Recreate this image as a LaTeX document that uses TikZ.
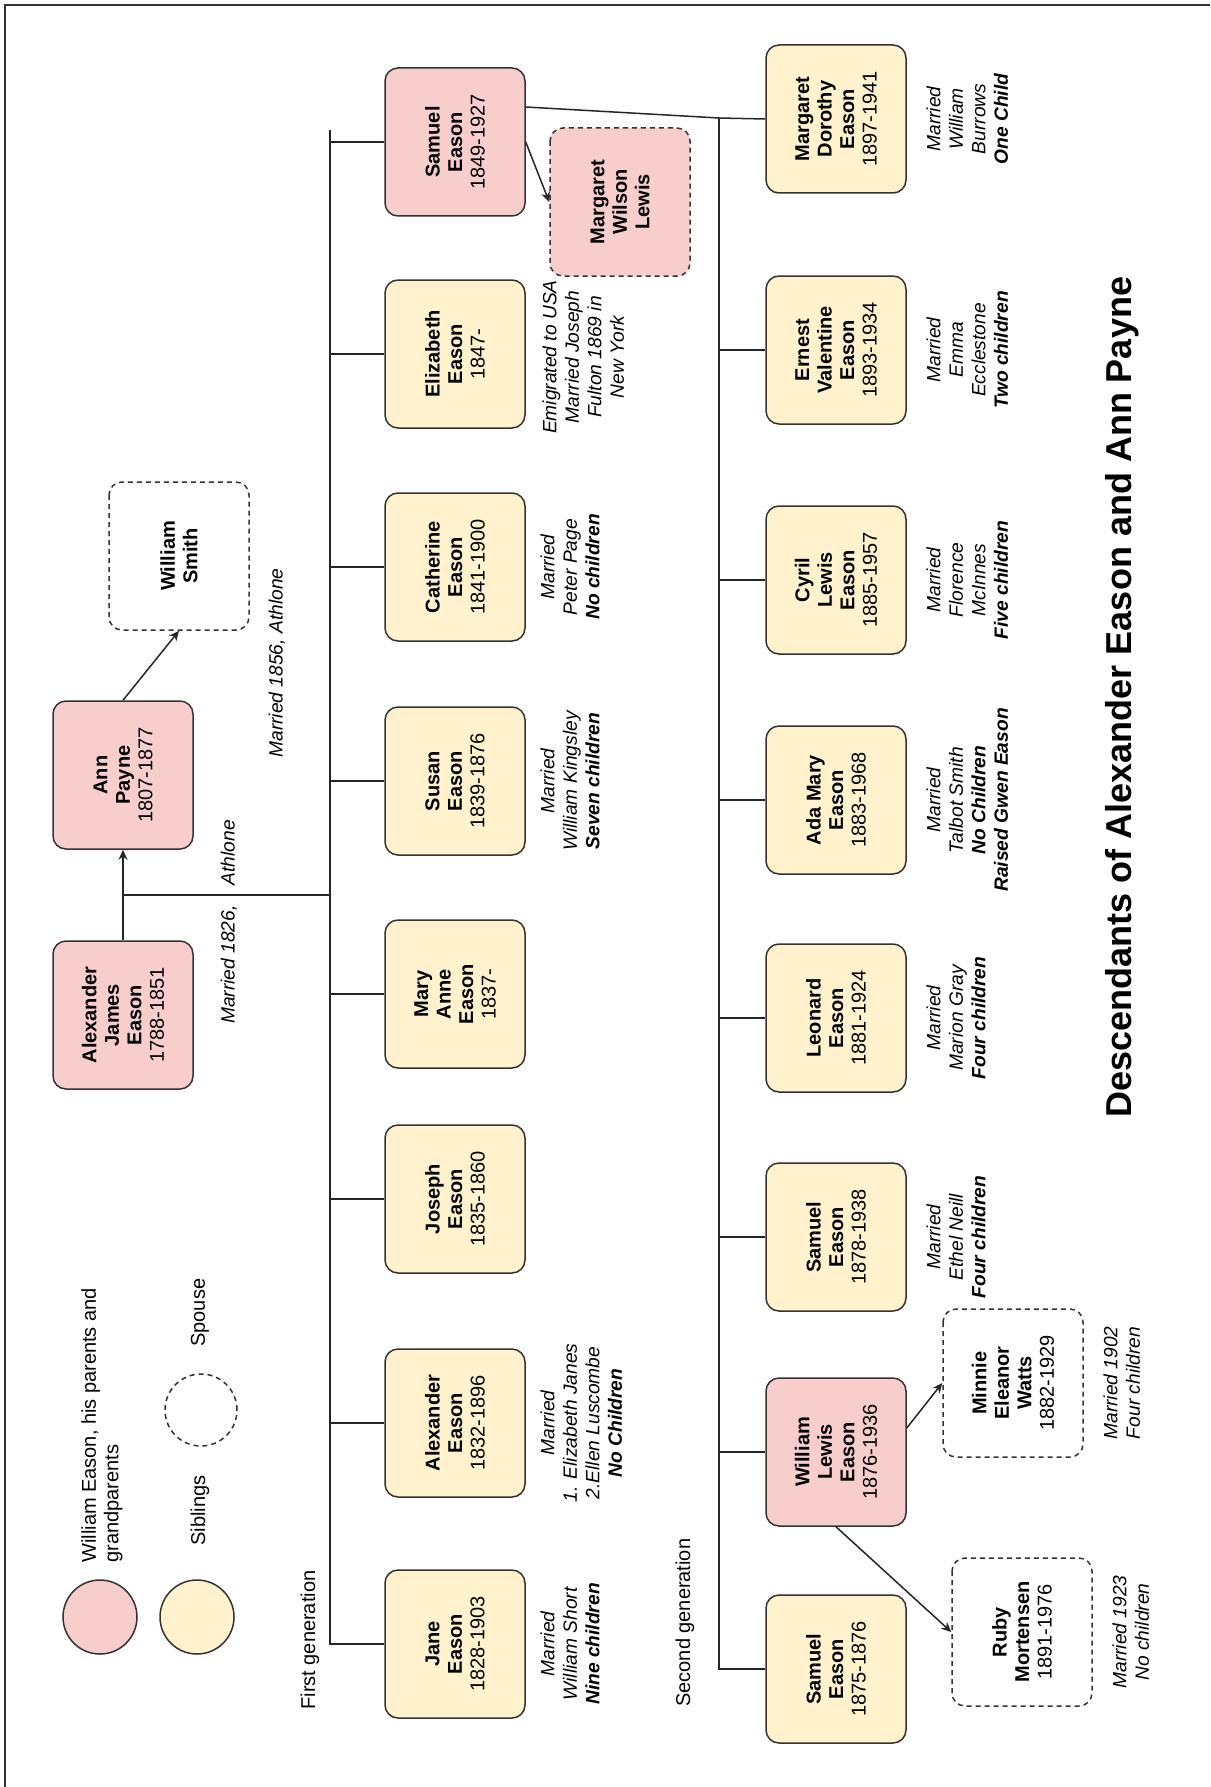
\documentclass[tikz,border=0pt]{standalone}
\usepackage{fontspec}
\setmainfont{Liberation Sans}
\usetikzlibrary{arrows.meta,calc}
\definecolor{kinfill}{HTML}{F8CECC}
\definecolor{sibfill}{HTML}{FFF2CC}
\begin{document}
\begin{tikzpicture}[x=0.5pt,y=-0.5pt,
  person/.style={rotate=90,draw=black!80,line width=0.75pt,rounded corners=6.5pt,
    minimum width=74pt,minimum height=70pt,align=center,inner sep=2pt,
    font=\fontsize{10}{11.25}\selectfont},
  kin/.style={person,fill=kinfill},
  sib/.style={person,fill=sibfill},
  spouse/.style={person,fill=white,dash pattern=on 2.5pt off 2pt},
  note/.style={rotate=90,anchor=north,align=center,inner sep=0pt,
    font=\fontsize{9.6}{11.25}\selectfont\itshape},
  tag/.style={rotate=90,anchor=west,align=left,inner sep=0pt,
    font=\fontsize{10}{11.25}\selectfont},
  link/.style={draw=black!85,line width=0.75pt},
  wed/.style={link,-{Stealth[length=5pt,width=4.5pt]}},
  key/.style={circle,draw=black!80,line width=0.75pt,minimum size=37pt,inner sep=0pt}]
\useasboundingbox[fill=white] (0,0) rectangle (1210,1787);
\draw[black!80,line width=1pt] (5,1787) -- (5,5) -- (1210,5);
\node[key,fill=kinfill] (keykin) at (100,1617) {};
\node[key,fill=sibfill] (keysib) at (197,1617) {};
\node[key,minimum size=36pt,dash pattern=on 2.5pt off 2pt] (keyspouse) at (201,1410) {};
\node[tag] (tkin) at (102,1563) {William Eason, his parents and\\grandparents};
\node[tag] (tsib) at (200,1546) {Siblings};
\node[tag] (tspouse) at (200,1347) {Spouse};
\node[tag] (gen1) at (310,1710) {First generation};
\node[tag] (gen2) at (685,1707) {Second generation};
\node[kin] (alexj) at (123,1015) {\textbf{Alexander}\\\textbf{James}\\\textbf{Eason}\\1788-1851};
\node[kin] (ann) at (123,775) {\textbf{Ann}\\\textbf{Payne}\\1807-1877};
\node[spouse] (wsmith) at (179,556) {\textbf{William}\\\textbf{Smith}};
\node[note,anchor=center] (wed1826) at (229,922) {Married 1826,\hspace{10pt}Athlone};
\node[note,anchor=center] (wed1856) at (277,663) {Married 1856, Athlone};
\node[kin] (sam1) at (455,142) {\textbf{Samuel}\\\textbf{Eason}\\1849-1927};
\node[sib] (eliz) at (455,354) {\textbf{Elizabeth}\\\textbf{Eason}\\1847-};
\node[sib] (cath) at (455,567) {\textbf{Catherine}\\\textbf{Eason}\\1841-1900};
\node[sib] (susan) at (455,781) {\textbf{Susan}\\\textbf{Eason}\\1839-1876};
\node[sib] (marya) at (455,994) {\textbf{Mary}\\\textbf{Anne}\\\textbf{Eason}\\1837-};
\node[sib] (joseph) at (455,1199) {\textbf{Joseph}\\\textbf{Eason}\\1835-1860};
\node[sib] (alexe) at (455,1423) {\textbf{Alexander}\\\textbf{Eason}\\1832-1896};
\node[sib] (jane) at (455,1644) {\textbf{Jane}\\\textbf{Eason}\\1828-1903};
\node[kin,dash pattern=on 2.5pt off 2pt] (mwilson) at (620,202) {\textbf{Margaret}\\\textbf{Wilson}\\\textbf{Lewis}};
\node[note] (neliz) at (542,357) {Emigrated to USA\\Married Joseph\\Fulton 1869 in\\New York};
\node[note] (ncath) at (540,567) {Married\\Peter Page\\\textbf{No children}};
\node[note] (nsusan) at (540,781) {Married\\William Kingsley\\\textbf{Seven children}};
\node[note] (nalexe) at (540,1423) {Married\\1. Elizabeth Janes\\2.Ellen Luscombe\\\textbf{No Children}};
\node[note] (njane) at (540,1644) {Married\\William Short\\\textbf{Nine children}};
\node[sib] (margd) at (836,119) {\textbf{Margaret}\\\textbf{Dorothy}\\\textbf{Eason}\\1897-1941};
\node[sib] (ernest) at (836,350) {\textbf{Ernest}\\\textbf{Valentine}\\\textbf{Eason}\\1893-1934};
\node[sib] (cyril) at (836,580) {\textbf{Cyril}\\\textbf{Lewis}\\\textbf{Eason}\\1885-1957};
\node[sib] (ada) at (836,800) {\textbf{Ada Mary}\\\textbf{Eason}\\1883-1968};
\node[sib] (leonard) at (836,1018) {\textbf{Leonard}\\\textbf{Eason}\\1881-1924};
\node[sib] (sam3) at (836,1237) {\textbf{Samuel}\\\textbf{Eason}\\1878-1938};
\node[kin] (wlewis) at (836,1452) {\textbf{William}\\\textbf{Lewis}\\\textbf{Eason}\\1876-1936};
\node[sib] (sam2) at (836,1669) {\textbf{Samuel}\\\textbf{Eason}\\1875-1876};
\node[spouse] (minnie) at (1013,1383) {\textbf{Minnie}\\\textbf{Eleanor}\\\textbf{Watts}\\1882-1929};
\node[spouse] (ruby) at (1022,1632) {\textbf{Ruby}\\\textbf{Mortensen}\\1891-1976};
\node[note] (nmargd) at (926,119) {Married\\William\\Burrows\\\textbf{One Child}};
\node[note] (nernest) at (926,350) {Married\\Emma\\Ecclestone\\\textbf{Two children}};
\node[note] (ncyril) at (926,580) {Married\\Florence\\McInnes\\\textbf{Five children}};
\node[note] (nada) at (926,800) {Married\\Talbot Smith\\\textbf{No Children}\\\textbf{Raised Gwen Eason}};
\node[note] (nleonard) at (926,1018) {Married\\Marion Gray\\\textbf{Four children}};
\node[note] (nsam3) at (926,1237) {Married\\Ethel Neill\\\textbf{Four children}};
\node[note] (nminnie) at (1103,1383) {Married 1902\\Four children};
\node[note] (nruby) at (1112,1632) {Married 1923\\No children};
\node[rotate=90,font=\fontsize{18}{20}\selectfont\bfseries] (title) at (1122,697) {Descendants of Alexander Eason and Ann Payne};
\coordinate (bus1) at (330,130);
\coordinate (bus2) at (719,118);
\coordinate (wed1) at ($(alexj.east)!0.5!(ann.west)$);
\draw[wed] (alexj.east) -- (ann.west);
\draw[wed] (ann.east) -- (wsmith.west);
\draw[link] (wed1) -- (bus1 |- wed1);
\draw[link] (bus1) -- (bus1 |- jane.north) -- (jane.north);
\foreach \n in {sam1,eliz,cath,susan,marya,joseph,alexe}
  \draw[link] (bus1 |- \n.north) -- (\n.north);
\draw[wed] (sam1.south) -- (mwilson.north);
\draw[link] ([yshift=17.5pt]sam1.south) -- (bus2) -- (margd.north);
\draw[link] (bus2) -- (bus2 |- sam2.north) -- (sam2.north);
\foreach \n in {ernest,cyril,ada,leonard,sam3,wlewis}
  \draw[link] (bus2 |- \n.north) -- (\n.north);
\draw[wed] ([yshift=12pt]wlewis.south) -- (minnie.north);
\draw[wed] (wlewis.west) -- (ruby.north);
\end{tikzpicture}
\end{document}
